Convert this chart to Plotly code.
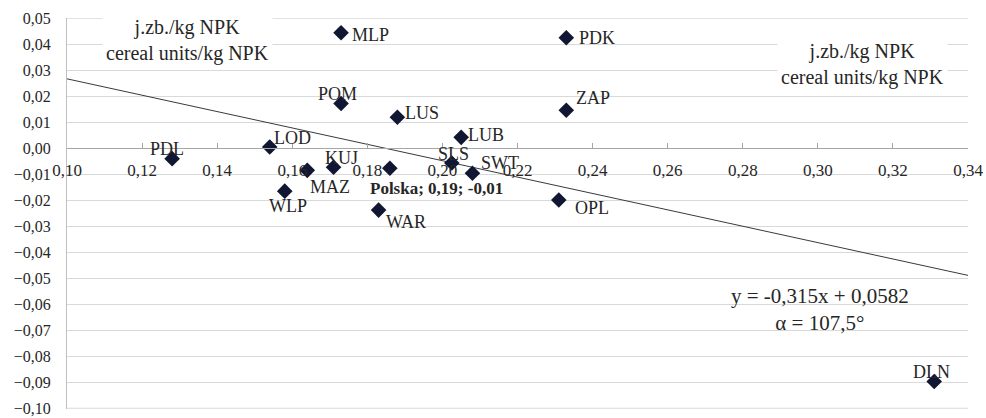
# scatter of voivodeships with linear trend line
import plotly.graph_objects as go

# region codes and their values
regions = ["PDL", "LOD", "WLP", "MAZ", "KUJ", "Polska", "MLP", "POM", "LUS",
           "LUB", "SLS", "SWT", "WAR", "OPL", "PDK", "ZAP", "DLN"]
x_vals = [0.128, 0.154, 0.158, 0.164, 0.171, 0.186, 0.173, 0.173, 0.188,
          0.205, 0.2025, 0.208, 0.183, 0.231, 0.233, 0.233, 0.331]
y_vals = [-0.004, 0.0005, -0.0165, -0.0085, -0.0073, -0.0077, 0.0444, 0.0172, 0.0119,
          0.0042, -0.0057, -0.0096, -0.0238, -0.0199, 0.0425, 0.0146, -0.0897]

# axis ticks
x_ticks = [0.10, 0.12, 0.14, 0.16, 0.18, 0.20, 0.22, 0.24, 0.26, 0.28, 0.30, 0.32, 0.34]
y_ticks = [-0.10, -0.09, -0.08, -0.07, -0.06, -0.05, -0.04, -0.03, -0.02, -0.01,
           0.00, 0.01, 0.02, 0.03, 0.04, 0.05]

# trend line from the equation shown on the chart
slope = -0.315
intercept = 0.0582
x_range = [0.10, 0.34]
y_range = [-0.1003, 0.0501]

# label offsets in pixels (xshift, yshift) relative to each marker
label_offsets = {
    "PDL": (-5, 10), "LOD": (23, 9), "WLP": (3, -15), "MAZ": (23, -17),
    "KUJ": (8, 9), "Polska": (47, -20), "MLP": (29, -2), "POM": (-4, 10),
    "LUS": (25, 4), "LUB": (25, 2), "SLS": (2, 9), "SWT": (28, 10),
    "WAR": (27, -12), "OPL": (33, -8), "PDK": (31, 0), "ZAP": (27, 12),
    "DLN": (-3, 9),
}

font_family = "Liberation Serif"
grid_color = "#d9d9d9"

fig = go.Figure()

# gridlines at the very top and bottom (plotly skips the ones on the plot edge)
for yv in [y_ticks[0], y_ticks[-1]]:
    fig.add_shape(type="line", xref="paper", x0=0, x1=1, yref="y", y0=yv, y1=yv,
                  line={"color": grid_color, "width": 1}, layer="below")

# trend line
fig.add_trace(go.Scatter(
    x=[0.10, 0.34],
    y=[slope * x + intercept for x in [0.10, 0.34]],
    mode="lines",
    line={"color": "#3a3a3a", "width": 1},
    hoverinfo="skip",
))

# the points
fig.add_trace(go.Scatter(
    x=x_vals, y=y_vals,
    mode="markers",
    marker={"symbol": "diamond", "size": 12, "color": "#111633"},
    text=regions,
    hovertemplate="%{text}: %{x}; %{y}<extra></extra>",
))

# point labels
for name, xv, yv in zip(regions, x_vals, y_vals):
    dx, dy = label_offsets[name]
    label = "<b>Polska; 0,19; -0,01</b>" if name == "Polska" else name
    fig.add_annotation(
        x=xv, y=yv, text=label, showarrow=False,
        xshift=dx, yshift=dy,
        font={"family": font_family, "size": 17 if name == "Polska" else 18, "color": "#262626"},
    )

# unit boxes
unit_text = "j.zb./kg NPK<br>cereal units/kg NPK"
for bx, by in [(0.132, 0.0415), (0.3118, 0.0323)]:
    fig.add_annotation(
        x=bx, y=by, text=unit_text, showarrow=False,
        bgcolor="white", borderpad=3,
        font={"family": font_family, "size": 20, "color": "#262626"},
    )

# equation text
fig.add_annotation(
    x=0.3006, y=-0.0621, text="y = -0,315x + 0,0582<br>α = 107,5°", showarrow=False,
    font={"family": font_family, "size": 21, "color": "#262626"},
)

fig.update_layout(
    width=986, height=418,
    margin={"l": 67, "r": 18, "t": 18, "b": 9},
    paper_bgcolor="white", plot_bgcolor="white",
    separators=", ",
    showlegend=False,
    font={"family": font_family, "size": 17, "color": "#262626"},
)

fig.update_xaxes(
    range=x_range, tickvals=x_ticks, tickformat=".2f",
    showgrid=False, zeroline=False,
    showline=True, linecolor="#a6a6a6", linewidth=1,
    anchor="free", position=(0 - y_range[0]) / (y_range[1] - y_range[0]),
    ticks="inside", ticklen=5, tickcolor="#a6a6a6",
    ticklabelstandoff=6,
    automargin=False,
)
fig.update_yaxes(
    range=y_range, tickvals=y_ticks, tickformat=".2f",
    tickfont={"size": 16},
    showgrid=True, gridcolor=grid_color, gridwidth=1, zeroline=False,
    showline=True, linecolor="#bfbfbf", linewidth=1,
    ticks="", ticklabelstandoff=12,
    automargin=False,
)

# drop the default page margin so the figure fills the window
fig.write_html("out.html", config={"displayModeBar": False},
               post_script="document.body.style.margin='0';")
